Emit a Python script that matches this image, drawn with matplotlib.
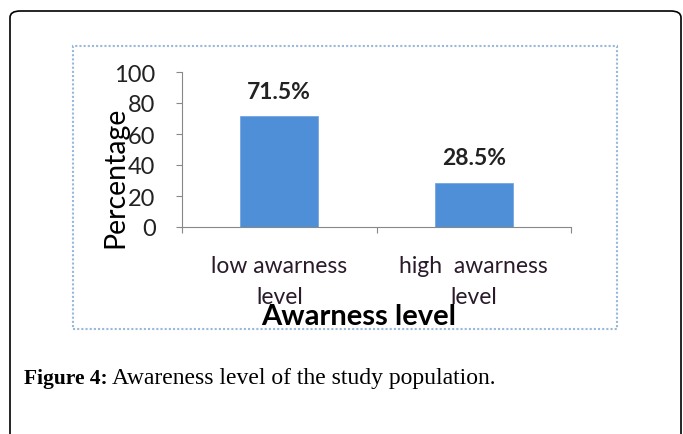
import matplotlib
matplotlib.use("Agg")
import matplotlib.pyplot as plt
from matplotlib.patches import FancyBboxPatch, Rectangle

categories = ["low awarness\nlevel", "high  awarness\nlevel"]
values = [71.5, 28.5]
value_labels = ["71.5%", "28.5%"]
yticks = [0, 20, 40, 60, 80, 100]

W, H = 683, 435
fig = plt.figure(figsize=(W / 100, H / 100), dpi=100)

def fx(px):
    return px / W

def fy(py):
    return 1 - py / H

# outer rounded frame
outer = FancyBboxPatch((fx(10), fy(470)), fx(681) - fx(10), fy(12) - fy(470),
                       boxstyle="round,pad=0,rounding_size=0.015",
                       transform=fig.transFigure, fill=False, edgecolor="black",
                       linewidth=1.2, figure=fig)
fig.patches.append(outer)

# inner chart frame (light blue dotted)
inner = Rectangle((fx(73), fy(330)), fx(617) - fx(73), fy(47) - fy(330),
                  transform=fig.transFigure, fill=False, edgecolor="#9ab8d8",
                  linewidth=1.5, linestyle=(0, (1, 1)), figure=fig)
fig.patches.append(inner)

ax = fig.add_axes([fx(182), fy(228), fx(571) - fx(182), fy(73) - fy(228)])
x = range(len(values))
bars = ax.bar(x, values, width=0.4, color="#4f8fd8", edgecolor="#6a9fde", linewidth=0.5)
ax.set_xlim(-0.5, 1.5)
ax.set_ylim(0, 100)
ax.set_yticks(yticks)
ax.set_yticklabels([str(t) for t in yticks], fontsize=17, family="Lato", color="#222222")
ax.set_xticks([-0.5, 0.5, 1.5])
ax.set_xticklabels([])
ax.set_xticks([0, 1], minor=True)
ax.set_xticklabels(categories, minor=True, fontsize=16.5, family="Lato",
                   color="#2a1a2a", linespacing=1.6)
ax.tick_params(axis="x", which="minor", length=0, pad=20)
ax.tick_params(axis="x", which="major", length=4, direction="out", color="#888888")
ax.tick_params(axis="y", length=4, direction="out", color="#888888", pad=15)
for s in ["top", "right"]:
    ax.spines[s].set_visible(False)
for s in ["left", "bottom"]:
    ax.spines[s].set_color("#888888")
ax.patch.set_alpha(0)

for b, lab in zip(bars, value_labels):
    ax.annotate(lab, (b.get_x() + b.get_width() / 2, b.get_height()),
                xytext=(0, 18), textcoords="offset points", ha="center", va="center",
                fontsize=16.5, fontweight="bold", family="Lato", color="#222222")

fig.text(fx(115), fy(177), "Percentage", rotation=90, ha="center", va="center",
         fontsize=20.5, family="Lato", color="black")
fig.text(fx(359), fy(317), "Awarness level", ha="center", va="center",
         fontsize=21, fontweight="bold", family="Lato", color="black")

fig.text(fx(24), fy(384), "Figure 4:", ha="left", va="baseline", fontsize=15.5,
         fontweight="bold", family="Liberation Serif")
fig.text(fx(112), fy(384), "Awareness level of the study population.", ha="left",
         va="baseline", fontsize=17, family="Liberation Serif")

fig.savefig("out.png", dpi=100)
